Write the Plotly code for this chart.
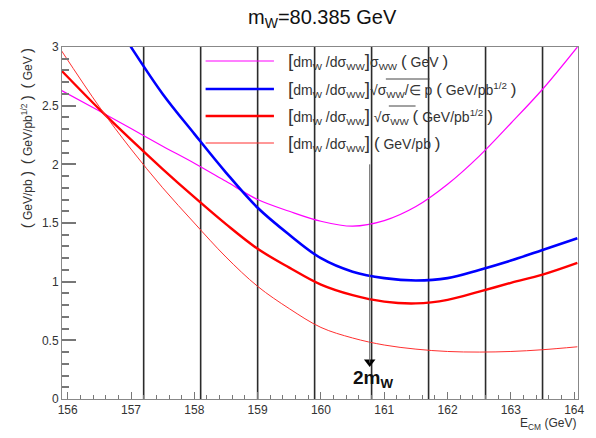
import plotly.graph_objects as go

# ---------------- data ----------------
m_w = 80.385
energy = [155.9, 156.5, 157.0, 157.5, 158.0, 158.5, 159.0, 159.5, 160.0, 160.5,
          161.0, 161.5, 162.0, 162.5, 163.0, 163.5, 164.05]

sigma_ww = [2.63, 2.455, 2.305, 2.155, 2.01, 1.855, 1.70, 1.60, 1.515, 1.473,
            1.52, 1.64, 1.83, 2.07, 2.35, 2.64, 3.0]

energy_eff = [156.8, 157.0, 157.5, 158.0, 158.5, 159.0, 159.5, 160.0, 160.5,
              161.0, 161.5, 162.0, 162.5, 163.0, 163.5, 164.05]
sqrt_sigma_eff = [3.17, 3.0, 2.60, 2.26, 1.93, 1.63, 1.40, 1.20, 1.085,
                  1.03, 1.01, 1.03, 1.10, 1.18, 1.27, 1.37]

sqrt_sigma = [2.80, 2.47, 2.21, 1.96, 1.72, 1.49, 1.28, 1.12, 0.975, 0.885,
              0.83, 0.815, 0.845, 0.915, 0.99, 1.06, 1.16]

plain = [2.97, 2.49, 2.13, 1.80, 1.50, 1.21, 0.96, 0.77, 0.61, 0.52,
         0.46, 0.425, 0.405, 0.40, 0.405, 0.42, 0.445]

scan_points = [157.2, 158.1, 159.0, 159.9, 160.8, 161.7, 162.6, 163.5]

x_ticks = [156, 157, 158, 159, 160, 161, 162, 163, 164]

LB = '<span style="font-size:19px">[</span>'
RB = '<span style="font-size:19px">]</span>'
LP = '<span style="font-size:17px">(</span>'
RP = '<span style="font-size:17px">)</span>'
legend_labels = [
    LB + 'dm<sub>W</sub> /dσ<sub>WW</sub>' + RB + 'σ<sub>WW</sub> ' + LP + ' GeV ' + RP,
    LB + 'dm<sub>W</sub> /dσ<sub>WW</sub>' + RB + '√σ<sub>WW</sub>/∈ p ' + LP + ' GeV/pb<sup>1/2</sup> ' + RP,
    LB + 'dm<sub>W</sub> /dσ<sub>WW</sub>' + RB + ' √σ<sub>WW</sub> ' + LP + ' GeV/pb<sup>1/2</sup> ' + RP,
    LB + 'dm<sub>W</sub> /dσ<sub>WW</sub>' + RB + ' ' + LP + ' GeV/pb ' + RP,
]
legend_colors = ["#ff00ff", "#0000ff", "#ff0000", "#ff3030"]
legend_widths = [1.2, 2.6, 2.4, 1.0]

# ---------------- figure ----------------
W, H = 596, 438
ML, MR, MT, MB = 62, 13, 47, 39
PW, PH = W - ML - MR, H - MT - MB

def px(xp):
    return (xp - ML) / PW

def py(yp):
    return (H - MB - yp) / PH

fig = go.Figure()

shapes = []
for e in scan_points:
    shapes.append(dict(type="line", xref="x", yref="paper", x0=e, x1=e, y0=0, y1=1,
                       line=dict(color="rgba(20,20,20,0.9)", width=1.6), layer="below"))

# 2 m_W marker line
shapes.append(dict(type="line", xref="x", yref="y", x0=2 * m_w, x1=2 * m_w, y0=0.31, y1=2.0,
                   line=dict(color="#666666", width=1)))

fig.add_trace(go.Scatter(x=energy, y=sigma_ww, mode="lines", line=dict(color=legend_colors[0], width=legend_widths[0], shape="spline"), showlegend=False))
fig.add_trace(go.Scatter(x=energy_eff, y=sqrt_sigma_eff, mode="lines", line=dict(color=legend_colors[1], width=legend_widths[1], shape="spline"), showlegend=False))
fig.add_trace(go.Scatter(x=energy, y=sqrt_sigma, mode="lines", line=dict(color=legend_colors[2], width=legend_widths[2], shape="spline"), showlegend=False))
fig.add_trace(go.Scatter(x=energy, y=plain, mode="lines", line=dict(color=legend_colors[3], width=legend_widths[3], shape="spline"), showlegend=False))

# arrow head at 2 m_W
fig.add_trace(go.Scatter(x=[2 * m_w], y=[0.315], mode="markers",
                         marker=dict(symbol="triangle-down", size=10, color="black"),
                         showlegend=False, cliponaxis=False))

annotations = []
# title
annotations.append(dict(text="m<sub>W</sub>=80.385 GeV", xref="paper", yref="paper",
                        x=px(325), y=py(18), showarrow=False, xanchor="center", yanchor="middle",
                        font=dict(size=20, color="#111")))
# 2mW label
annotations.append(dict(text="<b>2m<sub>W</sub></b>", xref="x", yref="paper", x=2 * m_w + 0.05,
                        y=py(379), showarrow=False, xanchor="center", yanchor="middle",
                        font=dict(size=19, color="#111")))
# x title
annotations.append(dict(text="E<sub>CM</sub> (GeV)", xref="paper", yref="paper",
                        x=px(583), y=py(424), showarrow=False, xanchor="right", yanchor="middle",
                        font=dict(size=12, color="#333")))
# y title
YP1 = '<span style="font-size:15px">(</span>'
YP2 = '<span style="font-size:15px">)</span>'
annotations.append(dict(text=YP1 + ' GeV/pb ' + YP2 + '  ' + YP1 + ' GeV/pb<sup>1/2</sup> ' + YP2 + '  ' + YP1 + ' GeV ' + YP2,
                        xref="paper", yref="paper", x=px(26), y=py(138), textangle=-90,
                        showarrow=False, xanchor="center", yanchor="middle",
                        font=dict(size=12, color="#333")))

row_y = [61, 89, 116, 143]
for lab, col, wdt, ry in zip(legend_labels, legend_colors, legend_widths, row_y):
    shapes.append(dict(type="line", xref="paper", yref="paper", x0=px(207), x1=px(276),
                       y0=py(ry), y1=py(ry), line=dict(color=col, width=wdt)))
    annotations.append(dict(text=lab, xref="paper", yref="paper", x=px(288), y=py(ry),
                            showarrow=False, xanchor="left", yanchor="middle",
                            font=dict(size=14, color="#333")))

# overlines of the square-root signs in the legend
for x0p, x1p, yp in [(389, 433, row_y[1] - 10), (392, 419, row_y[2] - 10)]:
    shapes.append(dict(type="line", xref="paper", yref="paper", x0=px(x0p), x1=px(x1p),
                       y0=py(yp), y1=py(yp), line=dict(color="#444", width=1)))

fig.update_layout(
    width=W, height=H,
    margin=dict(l=ML, r=MR, t=MT, b=MB),
    paper_bgcolor="white", plot_bgcolor="white",
    font=dict(family="Liberation Sans, Arial, sans-serif", color="#333"),
    shapes=shapes, annotations=annotations, showlegend=False,
)
fig.update_xaxes(range=[155.91, 164.06], tickvals=x_ticks, ticks="inside", ticklen=7,
                 tickcolor="#777", tickwidth=1, showline=True, linecolor="#888", linewidth=1,
                 mirror=True, showgrid=False, zeroline=False, tickfont=dict(size=12, color="#333"),
                 minor=dict(dtick=0.2, tick0=156, ticks="inside", ticklen=4, tickcolor="#777", showgrid=False))
fig.update_yaxes(range=[0, 3], dtick=0.5, tick0=0, ticks="inside", ticklen=14,
                 tickcolor="#777", tickwidth=1.5, showline=True, linecolor="#888", linewidth=1,
                 mirror=True, showgrid=False, zeroline=False, tickfont=dict(size=12, color="#333"),
                 minor=dict(dtick=0.1, ticks="inside", ticklen=7, tickcolor="#777", showgrid=False))

fig.write_html("out.html", config={"displayModeBar": False},
               post_script="document.body.style.margin='0';")
